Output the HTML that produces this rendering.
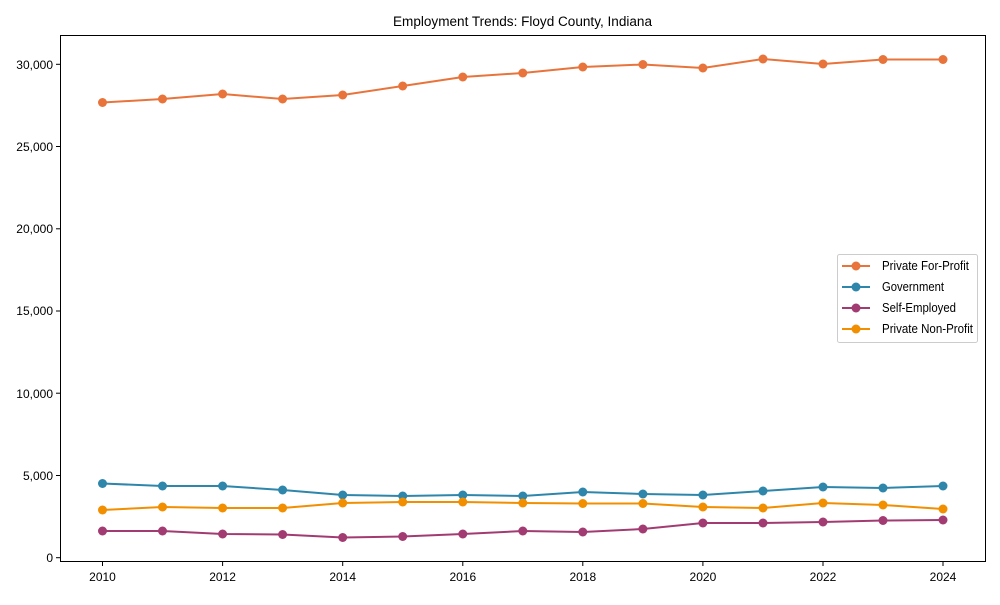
<!DOCTYPE html>
<html><head><style>body{margin:0;background:#fff}</style></head><body>
<svg width="1000" height="600" xmlns="http://www.w3.org/2000/svg" font-family="Liberation Sans, Arial, sans-serif" font-size="12">
<rect width="1000" height="600" fill="#fff"/>
<text x="393" y="26" font-size="13.5" textLength="259" lengthAdjust="spacingAndGlyphs">Employment Trends: Floyd County, Indiana</text>
<rect x="60.5" y="35.5" width="925" height="526" fill="none" stroke="#000" stroke-width="1"/>
<g stroke="#000">
<line x1="56" x2="60" y1="557.7" y2="557.7"/><line x1="56" x2="60" y1="475.5" y2="475.5"/><line x1="56" x2="60" y1="393.2" y2="393.2"/><line x1="56" x2="60" y1="311" y2="311"/><line x1="56" x2="60" y1="228.8" y2="228.8"/><line x1="56" x2="60" y1="146.5" y2="146.5"/><line x1="56" x2="60" y1="64.3" y2="64.3"/>
<line y1="562" y2="566" x1="102.5" x2="102.5"/><line y1="562" y2="566" x1="222.6" x2="222.6"/><line y1="562" y2="566" x1="342.7" x2="342.7"/><line y1="562" y2="566" x1="462.8" x2="462.8"/><line y1="562" y2="566" x1="582.8" x2="582.8"/><line y1="562" y2="566" x1="702.9" x2="702.9"/><line y1="562" y2="566" x1="823" x2="823"/><line y1="562" y2="566" x1="943" x2="943"/>
</g>
<g text-anchor="end">
<text x="53" y="562">0</text><text x="53" y="480">5,000</text><text x="53" y="398">10,000</text><text x="53" y="315">15,000</text><text x="53" y="233">20,000</text><text x="53" y="151">25,000</text><text x="53" y="69">30,000</text>
</g>
<g text-anchor="middle">
<text x="102.5" y="581">2010</text><text x="222.6" y="581">2012</text><text x="342.7" y="581">2014</text><text x="462.8" y="581">2016</text><text x="582.8" y="581">2018</text><text x="702.9" y="581">2020</text><text x="823" y="581">2022</text><text x="943" y="581">2024</text>
</g>
<g fill="none" stroke-width="2">
<polyline stroke="#E8743B" points="102.5,102.5 162.5,99 222.6,94 282.6,99 342.7,95 402.7,86 462.8,77 522.8,73 582.8,67 642.9,64.5 702.9,68 763,59 823,64 883,59.5 943,59.5"/>
<polyline stroke="#2E86AB" points="102.5,483.5 162.5,486 222.6,486 282.6,490 342.7,495 402.7,496 462.8,495 522.8,496 582.8,492 642.9,494 702.9,495 763,491 823,487 883,488 943,486"/>
<polyline stroke="#A23B72" points="102.5,531 162.5,531 222.6,534 282.6,534.5 342.7,537.5 402.7,536.5 462.8,534 522.8,531 582.8,532 642.9,529 702.9,523 763,523 823,522 883,520.5 943,520"/>
<polyline stroke="#F18F01" points="102.5,510 162.5,507 222.6,508 282.6,508 342.7,503 402.7,502 462.8,502 522.8,503 582.8,503.5 642.9,503.5 702.9,507 763,508 823,503 883,505 943,509"/>
</g>
<g fill="#E8743B"><circle cx="102.5" cy="102.5" r="4.5"/><circle cx="162.5" cy="99" r="4.5"/><circle cx="222.6" cy="94" r="4.5"/><circle cx="282.6" cy="99" r="4.5"/><circle cx="342.7" cy="95" r="4.5"/><circle cx="402.7" cy="86" r="4.5"/><circle cx="462.8" cy="77" r="4.5"/><circle cx="522.8" cy="73" r="4.5"/><circle cx="582.8" cy="67" r="4.5"/><circle cx="642.9" cy="64.5" r="4.5"/><circle cx="702.9" cy="68" r="4.5"/><circle cx="763" cy="59" r="4.5"/><circle cx="823" cy="64" r="4.5"/><circle cx="883" cy="59.5" r="4.5"/><circle cx="943" cy="59.5" r="4.5"/></g>
<g fill="#2E86AB"><circle cx="102.5" cy="483.5" r="4.5"/><circle cx="162.5" cy="486" r="4.5"/><circle cx="222.6" cy="486" r="4.5"/><circle cx="282.6" cy="490" r="4.5"/><circle cx="342.7" cy="495" r="4.5"/><circle cx="402.7" cy="496" r="4.5"/><circle cx="462.8" cy="495" r="4.5"/><circle cx="522.8" cy="496" r="4.5"/><circle cx="582.8" cy="492" r="4.5"/><circle cx="642.9" cy="494" r="4.5"/><circle cx="702.9" cy="495" r="4.5"/><circle cx="763" cy="491" r="4.5"/><circle cx="823" cy="487" r="4.5"/><circle cx="883" cy="488" r="4.5"/><circle cx="943" cy="486" r="4.5"/></g>
<g fill="#A23B72"><circle cx="102.5" cy="531" r="4.5"/><circle cx="162.5" cy="531" r="4.5"/><circle cx="222.6" cy="534" r="4.5"/><circle cx="282.6" cy="534.5" r="4.5"/><circle cx="342.7" cy="537.5" r="4.5"/><circle cx="402.7" cy="536.5" r="4.5"/><circle cx="462.8" cy="534" r="4.5"/><circle cx="522.8" cy="531" r="4.5"/><circle cx="582.8" cy="532" r="4.5"/><circle cx="642.9" cy="529" r="4.5"/><circle cx="702.9" cy="523" r="4.5"/><circle cx="763" cy="523" r="4.5"/><circle cx="823" cy="522" r="4.5"/><circle cx="883" cy="520.5" r="4.5"/><circle cx="943" cy="520" r="4.5"/></g>
<g fill="#F18F01"><circle cx="102.5" cy="510" r="4.5"/><circle cx="162.5" cy="507" r="4.5"/><circle cx="222.6" cy="508" r="4.5"/><circle cx="282.6" cy="508" r="4.5"/><circle cx="342.7" cy="503" r="4.5"/><circle cx="402.7" cy="502" r="4.5"/><circle cx="462.8" cy="502" r="4.5"/><circle cx="522.8" cy="503" r="4.5"/><circle cx="582.8" cy="503.5" r="4.5"/><circle cx="642.9" cy="503.5" r="4.5"/><circle cx="702.9" cy="507" r="4.5"/><circle cx="763" cy="508" r="4.5"/><circle cx="823" cy="503" r="4.5"/><circle cx="883" cy="505" r="4.5"/><circle cx="943" cy="509" r="4.5"/></g>
<rect x="837.5" y="254.5" width="140" height="88" rx="2" fill="#fff" stroke="#ccc"/>
<g stroke-width="2">
<line x1="842" x2="870" y1="266" y2="266" stroke="#E8743B"/><circle cx="856" cy="266" r="4.5" fill="#E8743B"/>
<line x1="842" x2="870" y1="287" y2="287" stroke="#2E86AB"/><circle cx="856" cy="287" r="4.5" fill="#2E86AB"/>
<line x1="842" x2="870" y1="308" y2="308" stroke="#A23B72"/><circle cx="856" cy="308" r="4.5" fill="#A23B72"/>
<line x1="842" x2="870" y1="329" y2="329" stroke="#F18F01"/><circle cx="856" cy="329" r="4.5" fill="#F18F01"/>
</g>
<g font-size="12.5">
<text x="882" y="270" textLength="87" lengthAdjust="spacingAndGlyphs">Private For-Profit</text>
<text x="882" y="291" textLength="62" lengthAdjust="spacingAndGlyphs">Government</text>
<text x="882" y="312" textLength="74" lengthAdjust="spacingAndGlyphs">Self-Employed</text>
<text x="882" y="333" textLength="91" lengthAdjust="spacingAndGlyphs">Private Non-Profit</text>
</g>
</svg>
</body></html>
